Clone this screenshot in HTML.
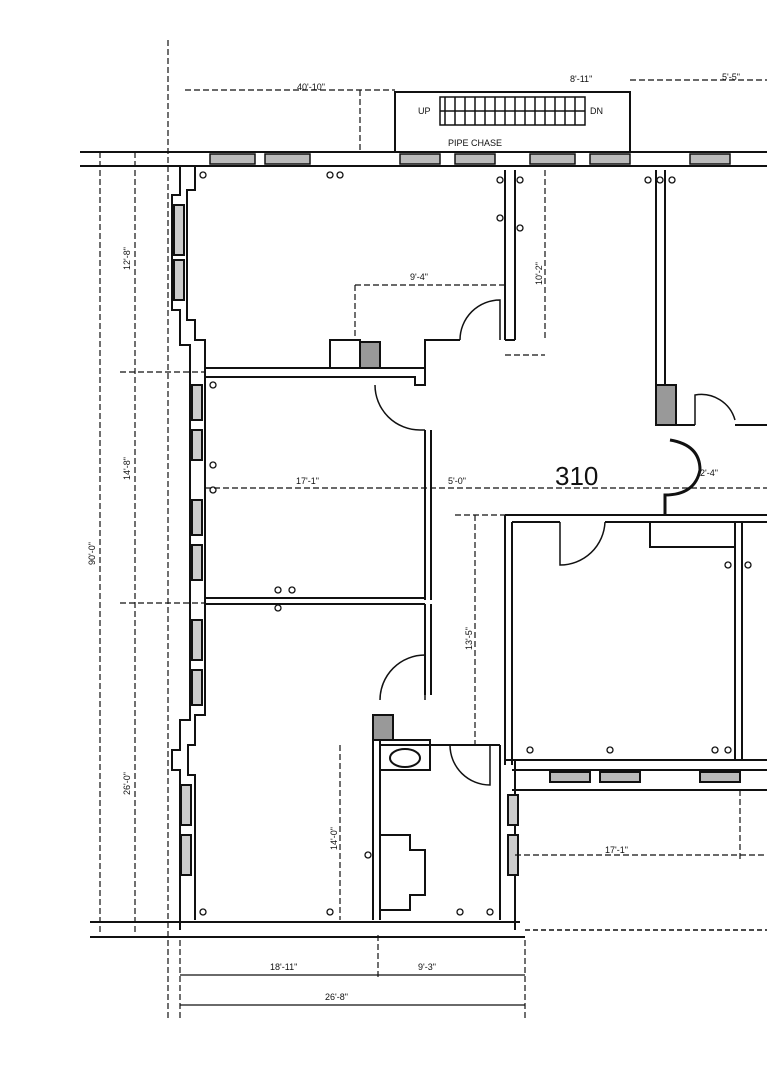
<!DOCTYPE html>
<html><head><style>
html,body{margin:0;padding:0;background:#fff;}
svg{display:block;}
text{font-family:"Liberation Sans",sans-serif;fill:#111;}
</style></head><body>
<svg width="767" height="1080" viewBox="0 0 767 1080" xmlns="http://www.w3.org/2000/svg">
<g stroke="#111" fill="none" stroke-width="2">
<!-- top exterior wall -->
<line x1="80" y1="152" x2="767" y2="152"/>
<line x1="80" y1="166" x2="767" y2="166"/>
<!-- windows on top wall -->
<g stroke-width="1.5">
<rect x="210" y="154" width="45" height="10" fill="#bbb"/>
<rect x="265" y="154" width="45" height="10" fill="#bbb"/>
<rect x="400" y="154" width="40" height="10" fill="#bbb"/>
<rect x="455" y="154" width="40" height="10" fill="#bbb"/>
<rect x="530" y="154" width="45" height="10" fill="#bbb"/>
<rect x="590" y="154" width="40" height="10" fill="#bbb"/>
<rect x="690" y="154" width="40" height="10" fill="#bbb"/>
</g>
<!-- stair box -->
<rect x="395" y="92" width="235" height="60"/>
<g stroke-width="1.5">
<line x1="445" y1="97" x2="445" y2="125"/><line x1="455" y1="97" x2="455" y2="125"/>
<line x1="465" y1="97" x2="465" y2="125"/><line x1="475" y1="97" x2="475" y2="125"/>
<line x1="485" y1="97" x2="485" y2="125"/><line x1="495" y1="97" x2="495" y2="125"/>
<line x1="505" y1="97" x2="505" y2="125"/><line x1="515" y1="97" x2="515" y2="125"/>
<line x1="525" y1="97" x2="525" y2="125"/><line x1="535" y1="97" x2="535" y2="125"/>
<line x1="545" y1="97" x2="545" y2="125"/><line x1="555" y1="97" x2="555" y2="125"/>
<line x1="565" y1="97" x2="565" y2="125"/><line x1="575" y1="97" x2="575" y2="125"/>
<line x1="440" y1="111" x2="585" y2="111"/>
<rect x="440" y="97" width="145" height="28"/>
</g>
<!-- left exterior wall with jogs -->
<polyline points="180,166 180,195 172,195 172,310 180,310 180,345 190,345 190,372 190,720 180,720 180,750 172,750 172,770 180,770 180,930"/>
<polyline points="195,166 195,190 187,190 187,320 195,320 195,340 205,340 205,372 205,715 195,715 195,745 188,745 188,775 195,775 195,920"/>
<rect x="174" y="205" width="10" height="50" fill="#ccc"/>
<rect x="174" y="260" width="10" height="40" fill="#ccc"/>
<rect x="192" y="385" width="10" height="35" fill="#ccc"/>
<rect x="192" y="430" width="10" height="30" fill="#ccc"/>
<rect x="192" y="500" width="10" height="35" fill="#ccc"/>
<rect x="192" y="545" width="10" height="35" fill="#ccc"/>
<rect x="192" y="620" width="10" height="40" fill="#ccc"/>
<rect x="192" y="670" width="10" height="35" fill="#ccc"/>
<rect x="181" y="785" width="10" height="40" fill="#ccc"/>
<rect x="181" y="835" width="10" height="40" fill="#ccc"/>
<!-- bottom wall -->
<line x1="90" y1="922" x2="520" y2="922"/>
<line x1="90" y1="937" x2="525" y2="937"/>
<line x1="525" y1="930" x2="767" y2="930" stroke-dasharray="5,3" stroke-width="1.5"/>
<!-- interior walls -->
<polyline points="205,368 425,368"/>
<polyline points="205,377 415,377 415,385 425,385 425,340 460,340"/>
<rect x="330" y="340" width="30" height="28"/>
<rect x="360" y="342" width="20" height="26" fill="#999"/>
<line x1="505" y1="170" x2="505" y2="340"/><line x1="515" y1="170" x2="515" y2="340"/>
<line x1="505" y1="340" x2="515" y2="340"/>
<line x1="425" y1="430" x2="425" y2="600"/><line x1="431" y1="430" x2="431" y2="600"/>
<line x1="205" y1="598" x2="425" y2="598"/><line x1="205" y1="604" x2="425" y2="604"/>
<line x1="425" y1="604" x2="425" y2="695"/><line x1="431" y1="604" x2="431" y2="695"/>
<!-- right room -->
<line x1="656" y1="170" x2="656" y2="425"/><line x1="665" y1="170" x2="665" y2="390"/>
<rect x="656" y="385" width="20" height="40" fill="#999"/>
<polyline points="656,425 695,425"/>
<line x1="735" y1="425" x2="767" y2="425"/>
<!-- lower right room -->
<line x1="505" y1="515" x2="767" y2="515"/><line x1="512" y1="522" x2="560" y2="522"/>
<line x1="605" y1="522" x2="767" y2="522"/>
<line x1="505" y1="515" x2="505" y2="765"/><line x1="512" y1="522" x2="512" y2="765"/>
<line x1="735" y1="522" x2="735" y2="760"/><line x1="742" y1="522" x2="742" y2="760"/>
<rect x="650" y="522" width="85" height="25"/>
<line x1="505" y1="760" x2="767" y2="760"/><line x1="512" y1="770" x2="767" y2="770"/>
<line x1="512" y1="790" x2="767" y2="790"/>
<rect x="550" y="772" width="40" height="10" fill="#bbb"/>
<rect x="600" y="772" width="40" height="10" fill="#bbb"/>
<rect x="700" y="772" width="40" height="10" fill="#bbb"/>
<!-- bottom-left rooms -->
<line x1="373" y1="715" x2="373" y2="920"/><line x1="380" y1="740" x2="380" y2="920"/>
<rect x="373" y="715" width="20" height="25" fill="#999"/>
<rect x="380" y="740" width="50" height="30"/>
<ellipse cx="405" cy="758" rx="15" ry="9"/>
<line x1="380" y1="745" x2="500" y2="745"/>
<line x1="500" y1="745" x2="500" y2="920"/><line x1="515" y1="760" x2="515" y2="930"/>
<rect x="508" y="795" width="10" height="30" fill="#ccc"/>
<rect x="508" y="835" width="10" height="40" fill="#ccc"/>
<polyline points="380,835 410,835 410,850 425,850 425,895 410,895 410,910 380,910"/>
<!-- doors -->
<path d="M460,340 A40,40 0 0 1 500,300 L500,340" stroke-width="1.5"/>
<path d="M375,385 A45,45 0 0 0 420,430 L425,430" stroke-width="1.5"/>
<path d="M380,700 A45,45 0 0 1 425,655 L425,700" stroke-width="1.5"/>
<path d="M560,522 L560,565 A45,45 0 0 0 605,522" stroke-width="1.5"/>
<path d="M450,745 A40,40 0 0 0 490,785 L490,745" stroke-width="1.5"/>
<path d="M695,425 L695,395 A35,35 0 0 1 735,420" stroke-width="1.5"/>
<path d="M670,440 Q700,445 700,470 Q695,495 665,495 L665,515" stroke-width="3"/>
</g>
<!-- dimension lines -->
<g stroke="#111" fill="none" stroke-width="1.2" stroke-dasharray="6,3">
<line x1="168" y1="40" x2="168" y2="1020"/>
<line x1="100" y1="152" x2="100" y2="935"/>
<line x1="135" y1="152" x2="135" y2="935"/>
<line x1="120" y1="372" x2="205" y2="372"/>
<line x1="120" y1="603" x2="205" y2="603"/>
<line x1="205" y1="488" x2="767" y2="488"/>
<line x1="185" y1="90" x2="395" y2="90"/>
<line x1="630" y1="80" x2="767" y2="80"/>
<line x1="360" y1="90" x2="360" y2="152"/>
<line x1="355" y1="285" x2="505" y2="285"/>
<line x1="355" y1="285" x2="355" y2="340"/>
<line x1="545" y1="170" x2="545" y2="340"/>
<line x1="475" y1="515" x2="475" y2="745"/>
<line x1="455" y1="515" x2="505" y2="515"/>
<line x1="340" y1="745" x2="340" y2="920"/>
<line x1="515" y1="855" x2="767" y2="855"/>
<line x1="740" y1="790" x2="740" y2="860"/>
<line x1="180" y1="975" x2="525" y2="975" stroke-dasharray="none"/>
<line x1="180" y1="1005" x2="525" y2="1005" stroke-dasharray="none"/>
<line x1="180" y1="940" x2="180" y2="1020"/>
<line x1="525" y1="940" x2="525" y2="1020"/>
<line x1="378" y1="935" x2="378" y2="980"/>
<line x1="505" y1="355" x2="545" y2="355"/>
</g>
<text x="555" y="485" font-size="26">310</text>
<g font-size="9">
<text x="297" y="90">40'-10"</text>
<text x="570" y="82">8'-11"</text>
<text x="722" y="80">5'-5"</text>
<text x="418" y="114">UP</text>
<text x="590" y="114">DN</text>
<text x="448" y="146">PIPE CHASE</text>
<text x="410" y="280">9'-4"</text>
<text x="296" y="484">17'-1"</text>
<text x="448" y="484">5'-0"</text>
<text x="700" y="476">2'-4"</text>
<text x="605" y="853">17'-1"</text>
<text x="270" y="970">18'-11"</text>
<text x="418" y="970">9'-3"</text>
<text x="325" y="1000">26'-8"</text>
<text transform="translate(130,270) rotate(-90)">12'-8"</text>
<text transform="translate(130,480) rotate(-90)">14'-8"</text>
<text transform="translate(95,565) rotate(-90)">90'-0"</text>
<text transform="translate(130,795) rotate(-90)">26'-0"</text>
<text transform="translate(542,285) rotate(-90)">10'-2"</text>
<text transform="translate(472,650) rotate(-90)">13'-5"</text>
<text transform="translate(337,850) rotate(-90)">14'-0"</text>
</g>
<g fill="none" stroke="#111" stroke-width="1.3">
<circle cx="203" cy="175" r="3"/><circle cx="330" cy="175" r="3"/><circle cx="340" cy="175" r="3"/>
<circle cx="500" cy="180" r="3"/><circle cx="520" cy="180" r="3"/><circle cx="500" cy="218" r="3"/><circle cx="520" cy="228" r="3"/>
<circle cx="648" cy="180" r="3"/><circle cx="660" cy="180" r="3"/><circle cx="672" cy="180" r="3"/>
<circle cx="213" cy="385" r="3"/><circle cx="213" cy="465" r="3"/><circle cx="213" cy="490" r="3"/>
<circle cx="278" cy="590" r="3"/><circle cx="292" cy="590" r="3"/><circle cx="278" cy="608" r="3"/>
<circle cx="530" cy="750" r="3"/><circle cx="610" cy="750" r="3"/><circle cx="715" cy="750" r="3"/><circle cx="728" cy="750" r="3"/>
<circle cx="203" cy="912" r="3"/><circle cx="330" cy="912" r="3"/><circle cx="460" cy="912" r="3"/><circle cx="490" cy="912" r="3"/>
<circle cx="368" cy="855" r="3"/><circle cx="748" cy="565" r="3"/><circle cx="728" cy="565" r="3"/>
</g>
</svg>
</body></html>
